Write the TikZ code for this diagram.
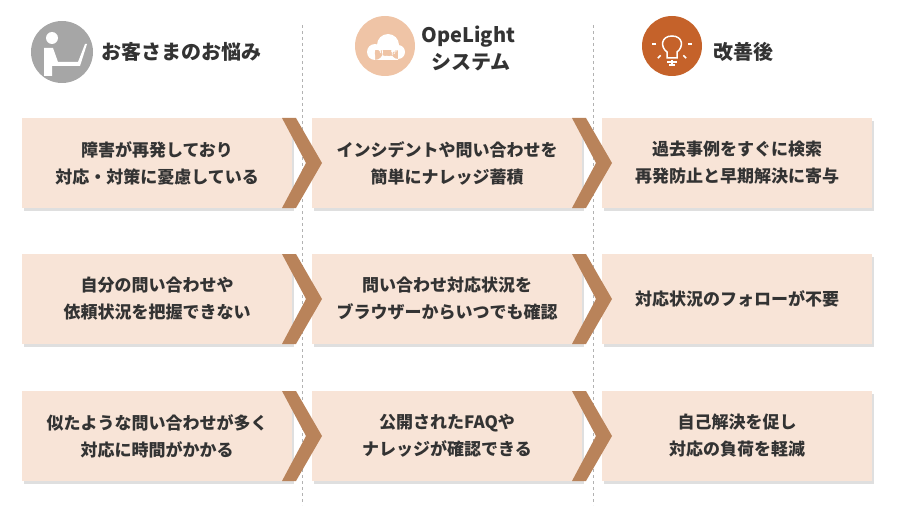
\documentclass[tikz,border=0pt]{standalone}
\usepackage{fontspec}
\setmainfont{Noto Sans CJK JP}
\newfontfamily\lsans{Liberation Sans}
\usetikzlibrary{shadows,calc}
\definecolor{boxc}{HTML}{F8E4D7}
\definecolor{chev}{HTML}{B9835A}
\definecolor{txt}{HTML}{333333}
\definecolor{gray1}{HTML}{A6A6A6}
\definecolor{peach}{HTML}{EFC4A6}
\definecolor{orng}{HTML}{C5622A}
\tikzset{
 box/.style={fill=boxc, drop shadow={shadow xshift=2pt,shadow yshift=-3pt,fill=black!25}},
 btxt/.style={text=txt,font=\fontsize{17}{27}\selectfont\bfseries,align=center},
 htxt/.style={text=txt,font=\fontsize{20}{22}\selectfont\bfseries,align=center,anchor=west},
 sep/.style={draw=gray!60,dashed,line width=0.8pt}
}
\begin{document}
\begin{tikzpicture}[x=1pt,y=-1pt]
\useasboundingbox (0,0) rectangle (900,508);
\draw[sep] (302,25) -- (302,505);
\draw[sep] (593,25) -- (593,505);
% icons
\fill[gray1] (62,52) circle (31);
\fill[white] (52,38) circle (6);
\fill[white] (44,48) -- (53,48) -- (58,62) -- (78,62) -- (85,44) -- (87,44) -- (80,66) -- (52,66) -- (52,76) -- (44,76) -- cycle;
\node[htxt] (h1) at (98,52) {お客さまのお悩み};
\fill[peach] (385,46) circle (30);
\fill[white] (375,52) circle (8) (388,45) circle (11) (398,52) circle (7) (375,50) rectangle (398,60);
\node[text=peach,font=\lsans\fontsize{8}{9}\selectfont\bfseries,inner sep=0] (cl) at (386,54) {Cloud};
\node[htxt] (h2) at (418,37) {OpeLight};
\node[htxt] (h2b) at (428,62) {システム};
\fill[orng] (672,46) circle (30);
\draw[white,line width=1.5pt] (667,58) -- (667,52) .. controls (660,47) and (661,36) .. (672,36) .. controls (683,36) and (684,47) .. (677,52) -- (677,58) -- cycle;
\draw[white,line width=1.5pt] (667,62) -- (677,62) (669,65) -- (675,65);
\foreach \a in {0,45,90,135,180} \draw[white,line width=1.5pt] ($(672,44)+(\a:16)$) -- ($(672,44)+(\a:20)$);
\node[htxt] (h3) at (710,52) {改善後};
% rows
\foreach \y/\i in {118/1,254/2,391/3}{
 \fill[box] (22,\y) rectangle ++(270,90);
 \fill[box] (312,\y) rectangle ++(270,90);
 \fill[box] (602,\y) rectangle ++(270,90);
 \fill[chev] (282,\y) -- (296,\y) -- (322,\y+45) -- (296,\y+90) -- (282,\y+90) -- (306,\y+45) -- cycle;
 \fill[chev] (572,\y) -- (586,\y) -- (612,\y+45) -- (586,\y+90) -- (572,\y+90) -- (596,\y+45) -- cycle;
}
\node[btxt] (a1) at (157,163) {障害が再発しており\\対応・対策に憂慮している};
\node[btxt] (b1) at (447,163) {インシデントや問い合わせを\\簡単にナレッジ蓄積};
\node[btxt] (c1) at (737,163) {過去事例をすぐに検索\\再発防止と早期解決に寄与};
\node[btxt] (a2) at (157,299) {自分の問い合わせや\\依頼状況を把握できない};
\node[btxt] (b2) at (447,299) {問い合わせ対応状況を\\ブラウザーからいつでも確認};
\node[btxt] (c2) at (737,299) {対応状況のフォローが不要};
\node[btxt] (a3) at (157,436) {似たような問い合わせが多く\\対応に時間がかかる};
\node[btxt] (b3) at (447,436) {公開されたFAQや\\ナレッジが確認できる};
\node[btxt] (c3) at (737,436) {自己解決を促し\\対応の負荷を軽減};
\end{tikzpicture}
\end{document}
